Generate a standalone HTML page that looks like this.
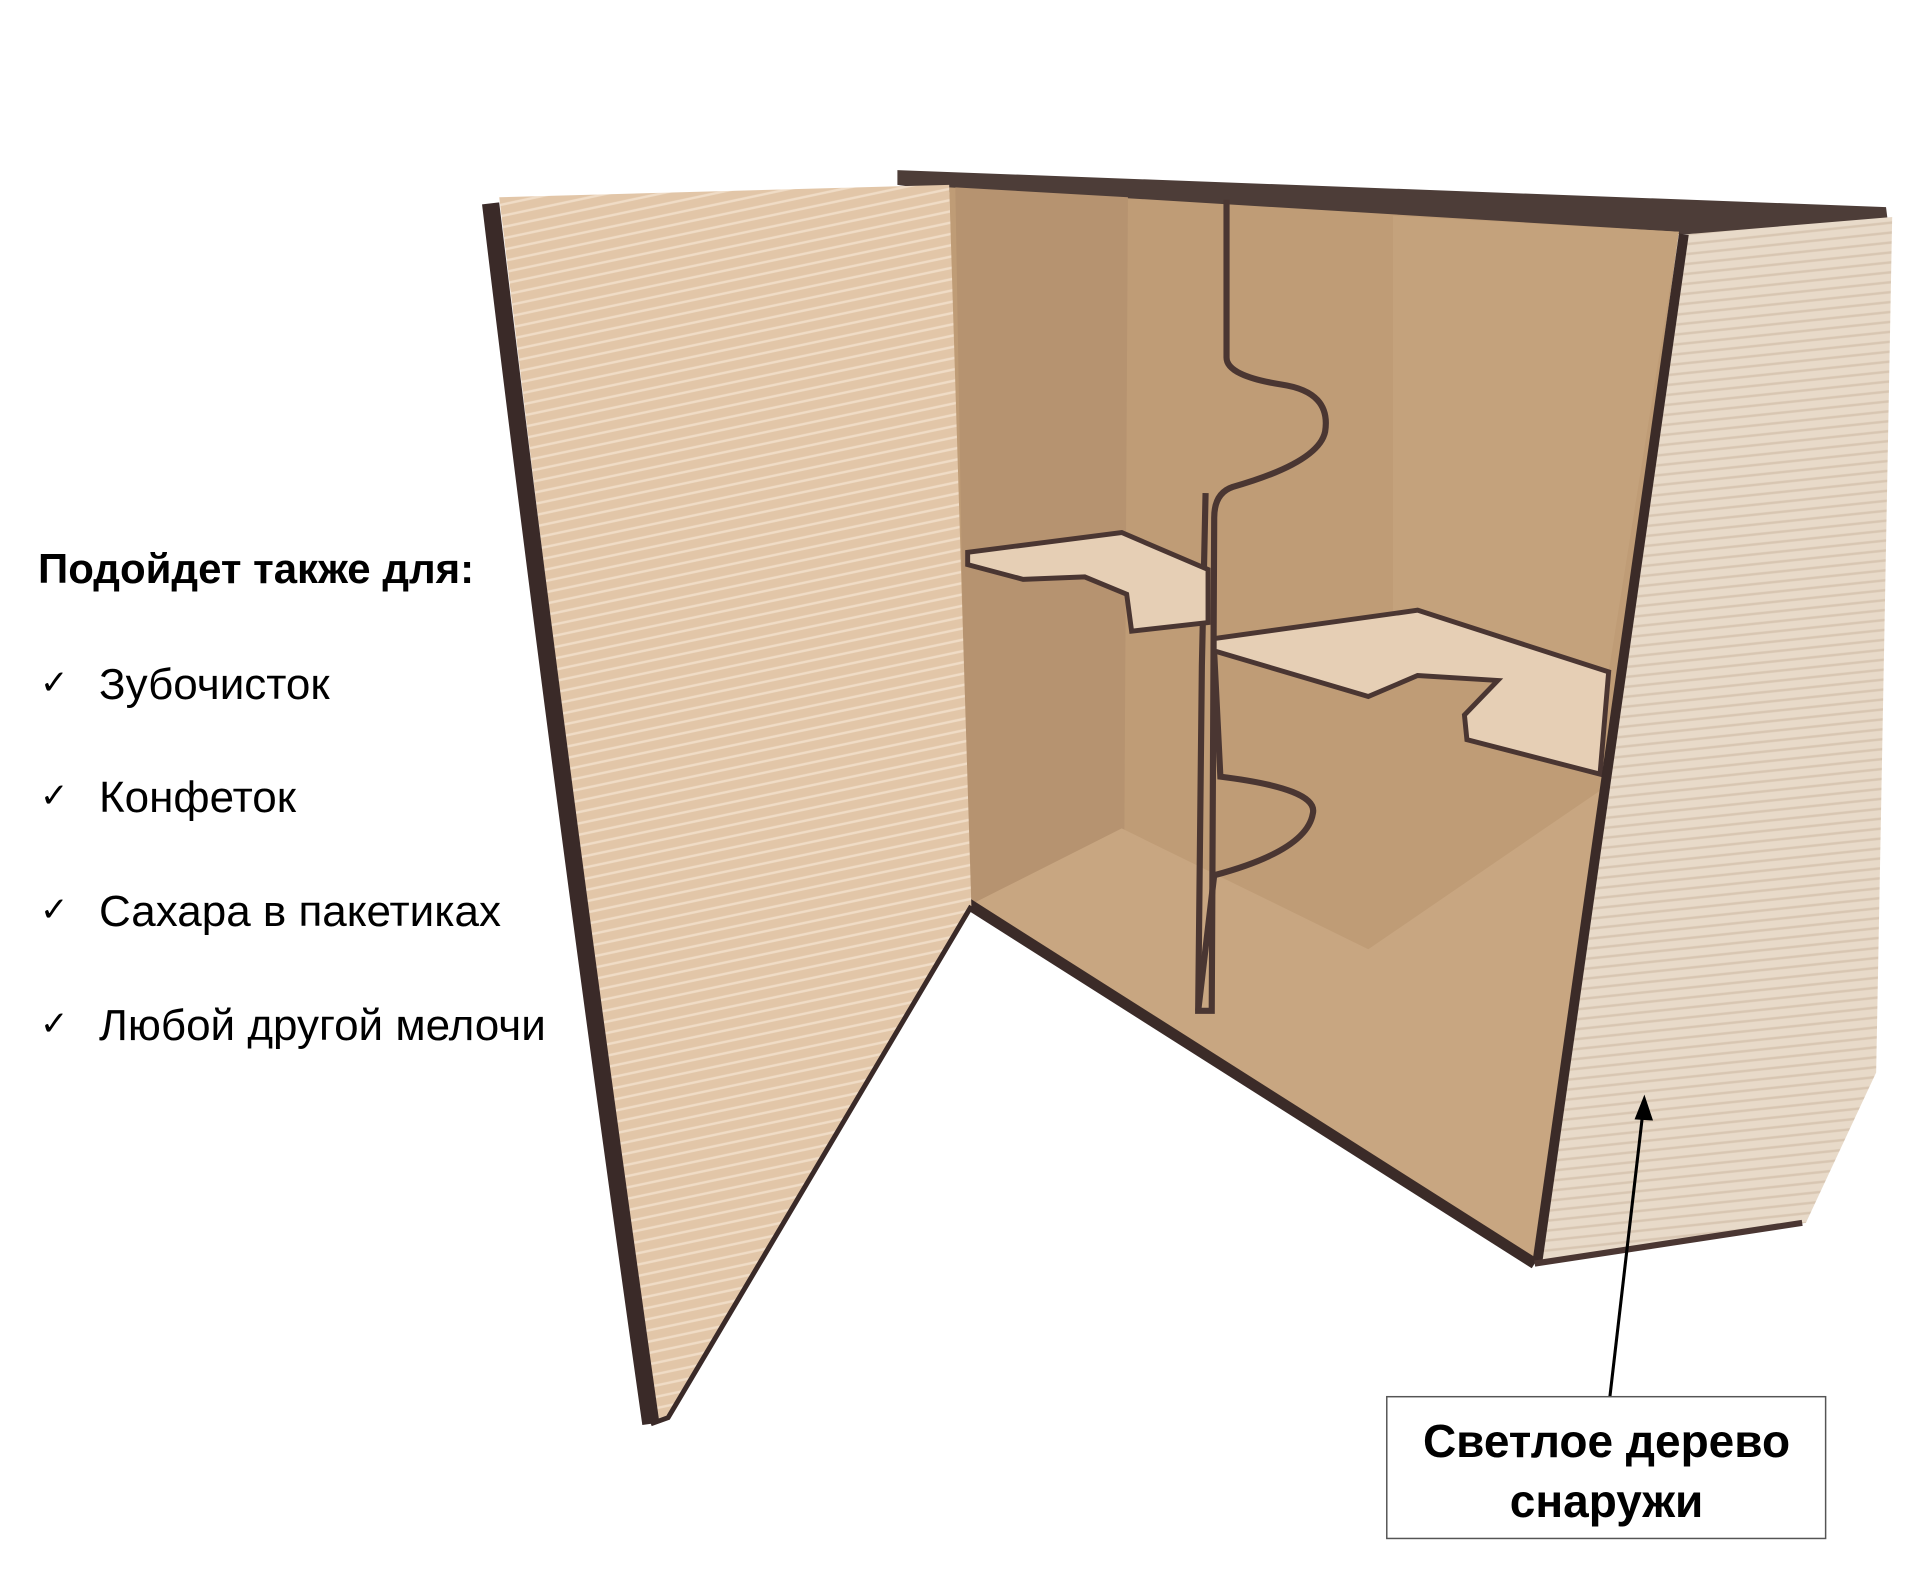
<!DOCTYPE html>
<html><head><meta charset="utf-8"><style>
html,body{margin:0;padding:0;background:#fff;}
body{width:1923px;height:1589px;position:relative;overflow:hidden;font-family:"Liberation Sans","Noto Sans CJK SC",sans-serif;}
svg{position:absolute;left:0;top:0;}
.t{position:absolute;color:#000;white-space:nowrap;}
.c{position:absolute;color:#000;font-family:"DejaVu Sans",sans-serif;font-size:34px;font-weight:bold;}
</style></head><body>
<svg width="1923" height="1589" viewBox="0 0 1560 1289" preserveAspectRatio="none">
<defs>
<pattern id="grain" width="40" height="9" patternUnits="userSpaceOnUse" patternTransform="rotate(-12)">
<rect width="40" height="9" fill="#e2c6a8"/>
<rect y="3" width="40" height="2" fill="#f0dcc6"/>
</pattern>
<pattern id="grain2" width="40" height="8" patternUnits="userSpaceOnUse" patternTransform="rotate(-6)">
<rect width="40" height="8" fill="#e8dac9"/>
<rect y="3" width="40" height="2" fill="#d8c6b2"/>
</pattern>
</defs>
<polygon points="728,138 1530,168 1532,184 1365,190 770,156 728,150" fill="#4d3d38"/>
<polygon points="770,152 1362,188 1300,640 1245,1025 785,735" fill="#bf9c76"/>
<polygon points="775,152 915,160 912,695 785,735" fill="#b69370"/>
<polygon points="1130,175 1362,188 1305,545 1130,505" fill="#c4a27c"/>
<polygon points="785,735 910,672 1110,770 1300,640 1245,1025" fill="#c8a681"/>
<path d="M995,162 L995,290 Q995,305 1040,312 Q1080,318 1075,350 Q1070,375 1000,395 Q985,400 985,420 L983,820 L972,820 L975,540 L978,400" fill="none" stroke="#4a3632" stroke-width="5"/>
<path d="M985,530 L990,630 Q1070,640 1065,660 Q1060,690 985,710 L972,820" fill="none" stroke="#4a3632" stroke-width="5"/>
<polygon points="785,448 910,432 980,462 980,505 918,512 914,482 880,468 830,470 785,458" fill="#e6cfb5" stroke="#4a3632" stroke-width="4"/>
<polygon points="985,518 1150,495 1305,545 1298,628 1190,600 1188,580 1215,552 1150,548 1110,565 985,528" fill="#e6cfb5" stroke="#4a3632" stroke-width="4"/>
<polygon points="1368,190 1535,176 1522,870 1465,992 1245,1025" fill="url(#grain2)"/>
<line x1="1366" y1="190" x2="1247" y2="1025" stroke="#3b2b28" stroke-width="8"/>
<line x1="785" y1="733" x2="1245" y2="1025" stroke="#3b2b28" stroke-width="9"/>
<line x1="1245" y1="1025" x2="1462" y2="992" stroke="#4a3632" stroke-width="5"/>
<path d="M405,160 L770,150 L788,735 L540,1150 L528,1152 Q470,700 405,160 Z" fill="url(#grain)"/>
<path d="M398,165 Q455,640 528,1155" fill="none" stroke="#3a2a28" stroke-width="14"/>
<path d="M528,1155 L542,1150 L788,735" fill="none" stroke="#3a2a28" stroke-width="4"/>
<line x1="1306" y1="1133" x2="1333" y2="900" stroke="#000" stroke-width="2.5"/>
<polygon points="1334,888 1326,908 1341,909" fill="#000"/>
<rect x="1125" y="1133" width="356" height="115" fill="#fff" stroke="#555" stroke-width="1.2"/>
</svg>
<div class="t" style="left:38px;top:545px;font-size:42px;font-weight:bold;">Подойдет также для:</div>
<div class="c" style="left:40px;top:663px;">✓</div>
<div class="t" style="left:99px;top:660px;font-size:44px;">Зубочисток</div>
<div class="c" style="left:40px;top:776px;">✓</div>
<div class="t" style="left:99px;top:773px;font-size:44px;">Конфеток</div>
<div class="c" style="left:40px;top:890px;">✓</div>
<div class="t" style="left:99px;top:887px;font-size:44px;">Сахара в пакетиках</div>
<div class="c" style="left:40px;top:1004px;">✓</div>
<div class="t" style="left:99px;top:1001px;font-size:44px;">Любой другой мелочи</div>
<div class="t" style="left:1387px;width:439px;top:1411px;text-align:center;font-size:46px;font-weight:bold;line-height:60px;">Светлое дерево<br>снаружи</div>
</body></html>
